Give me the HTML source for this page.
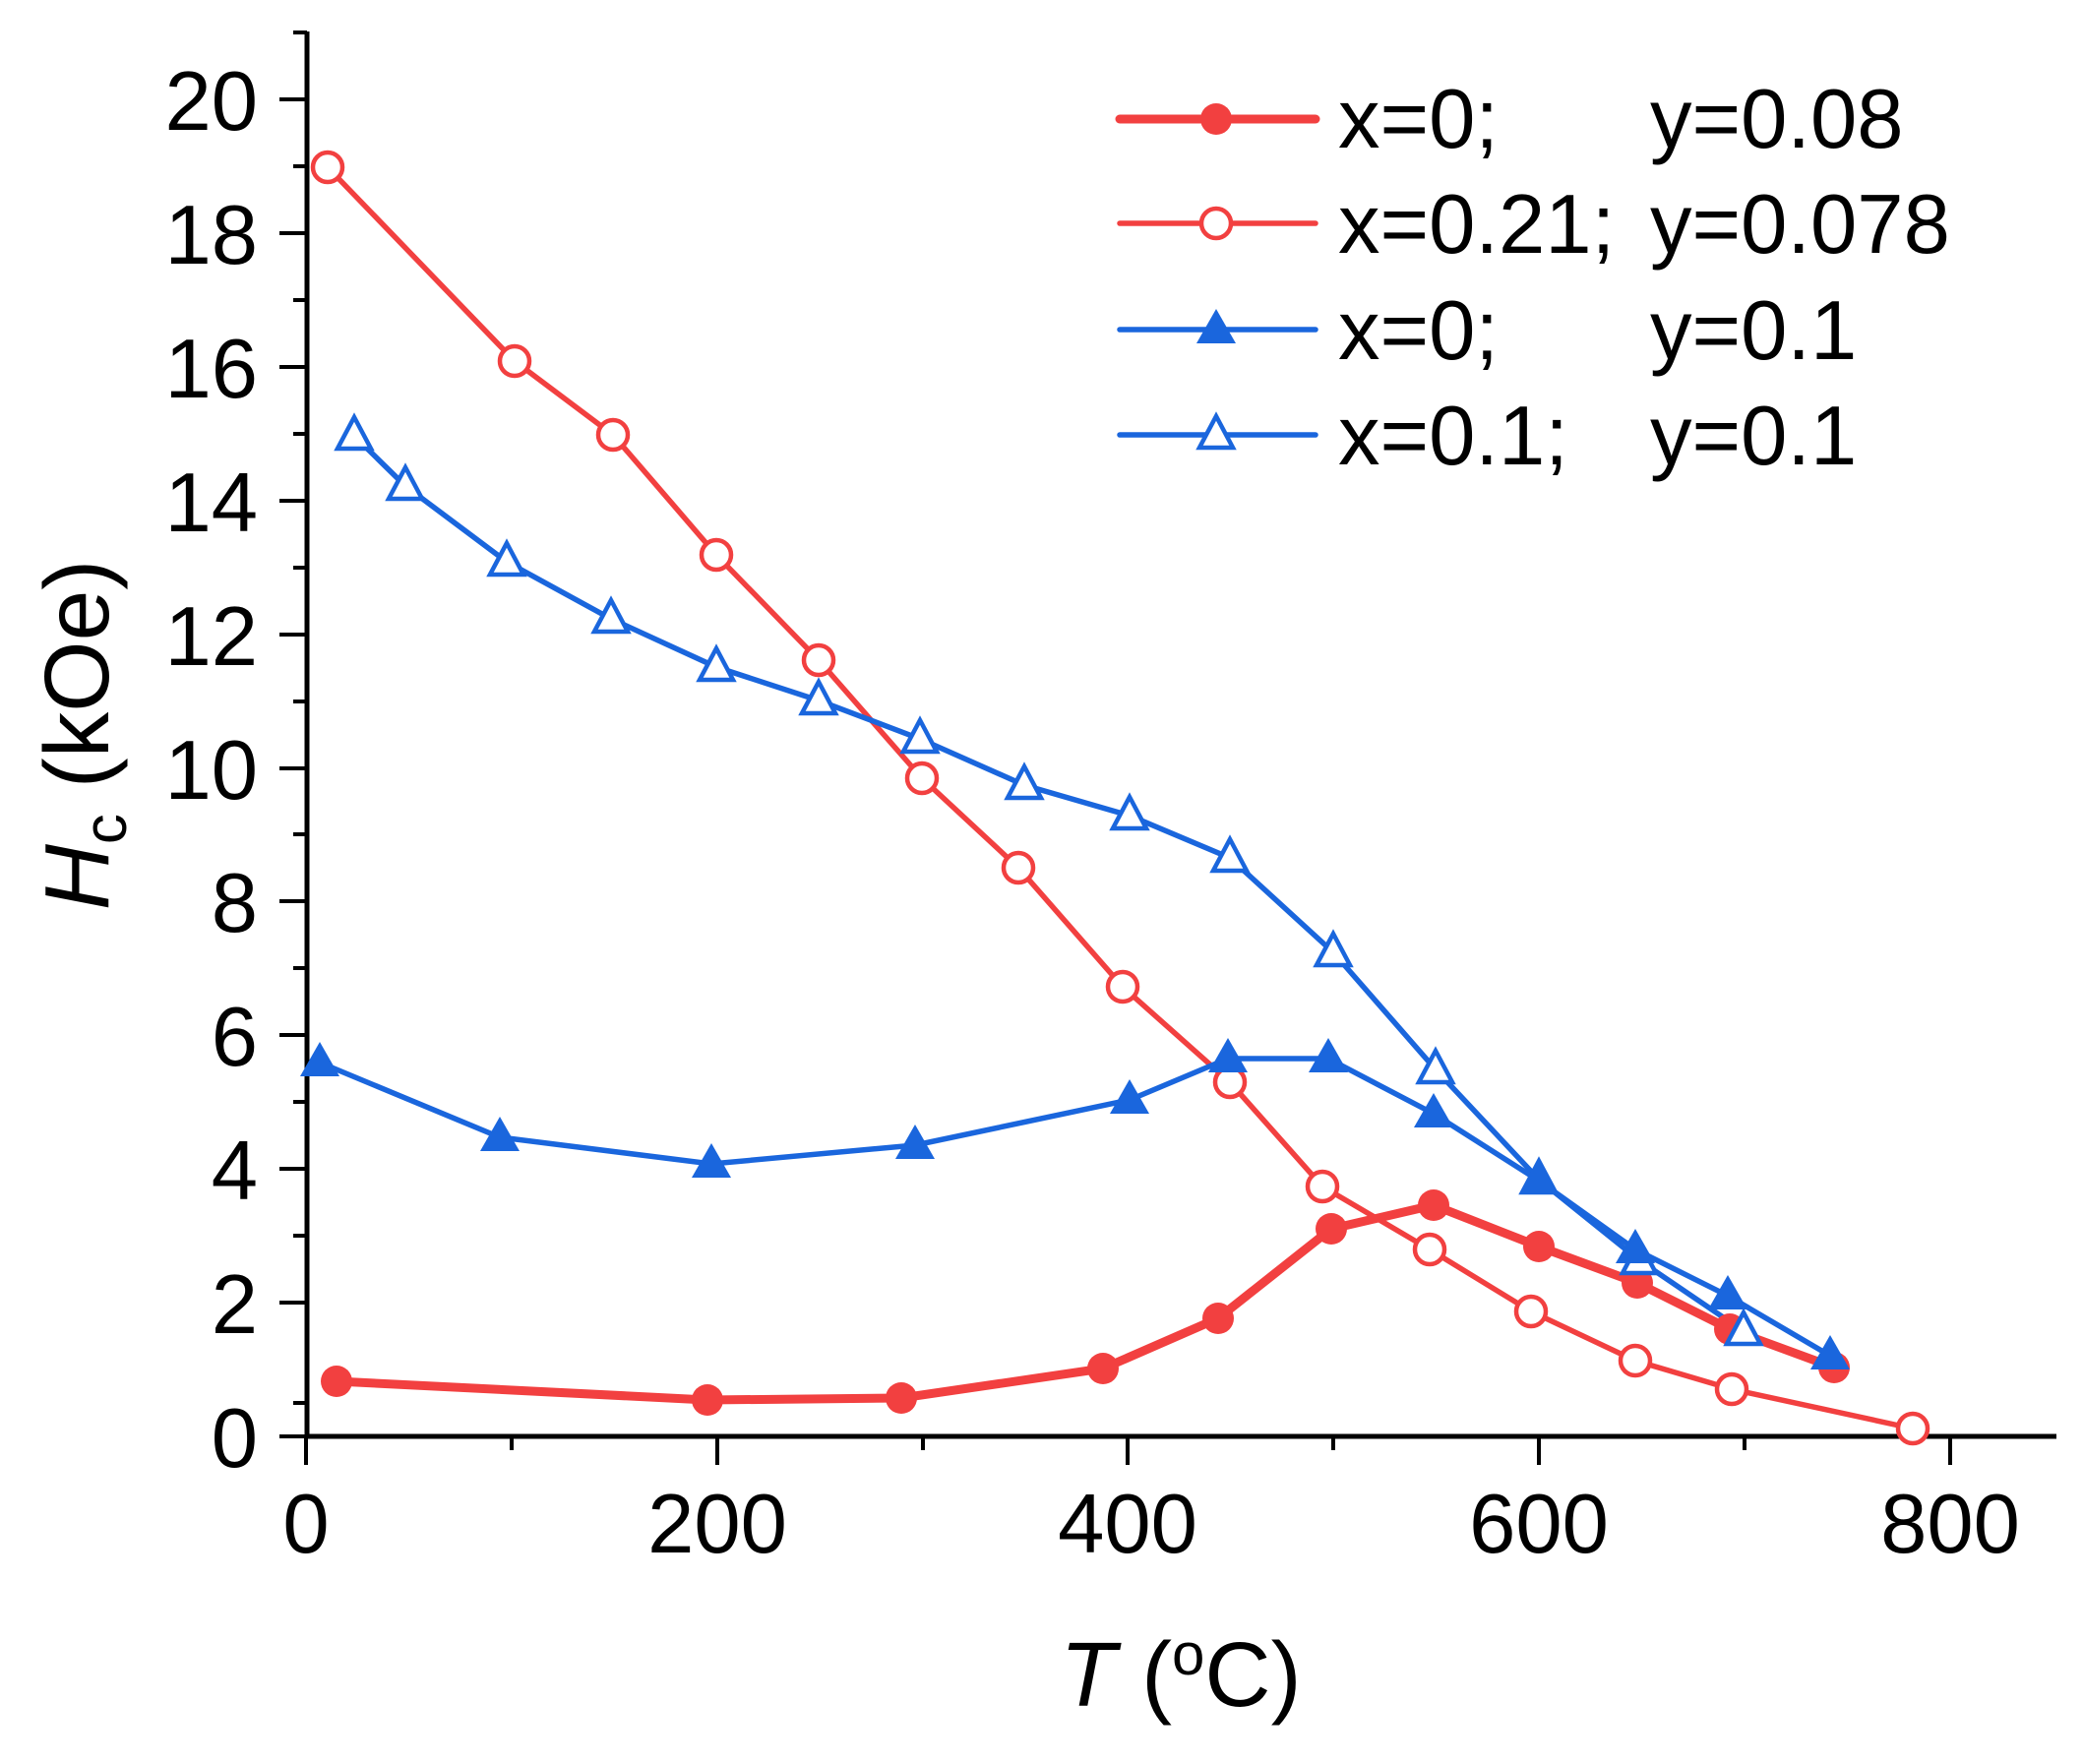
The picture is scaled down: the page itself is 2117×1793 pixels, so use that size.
<!DOCTYPE html>
<html><head><meta charset="utf-8"><style>
html,body{margin:0;padding:0;background:#fff;}
svg{display:block;}
text{font-family:"Liberation Sans",sans-serif;fill:#000;}
</style></head><body>
<svg width="2117" height="1793" viewBox="0 0 2117 1793" xmlns="http://www.w3.org/2000/svg">
<defs>
<g id="fc"><circle r="16" fill="#f24040"/></g>
<g id="oc"><circle r="15" fill="#fff" stroke="#f24040" stroke-width="4.5"/></g>
<g id="ft"><polygon points="0,-21 20,14 -20,14" fill="#1a66dd"/></g>
<g id="ot"><polygon points="0,-19 17,13 -17,13" fill="#fff" stroke="#1a66dd" stroke-width="4.5"/></g>
</defs>
<g stroke="#000" stroke-width="5" fill="none">
<line x1="312" y1="32" x2="312" y2="1462"/>
<line x1="310" y1="1460" x2="2090" y2="1460"/>
</g>
<g stroke="#000" stroke-width="4">
<line x1="284" y1="1460" x2="312" y2="1460"/><line x1="298" y1="1426" x2="312" y2="1426"/>
<line x1="284" y1="1324" x2="312" y2="1324"/><line x1="298" y1="1256" x2="312" y2="1256"/>
<line x1="284" y1="1188" x2="312" y2="1188"/><line x1="298" y1="1120" x2="312" y2="1120"/>
<line x1="284" y1="1052" x2="312" y2="1052"/><line x1="298" y1="984" x2="312" y2="984"/>
<line x1="284" y1="916" x2="312" y2="916"/><line x1="298" y1="848" x2="312" y2="848"/>
<line x1="284" y1="781" x2="312" y2="781"/><line x1="298" y1="713" x2="312" y2="713"/>
<line x1="284" y1="645" x2="312" y2="645"/><line x1="298" y1="577" x2="312" y2="577"/>
<line x1="284" y1="509" x2="312" y2="509"/><line x1="298" y1="441" x2="312" y2="441"/>
<line x1="284" y1="373" x2="312" y2="373"/><line x1="298" y1="305" x2="312" y2="305"/>
<line x1="284" y1="237" x2="312" y2="237"/><line x1="298" y1="169" x2="312" y2="169"/>
<line x1="284" y1="101" x2="312" y2="101"/><line x1="298" y1="33" x2="312" y2="33"/>
<line x1="311" y1="1460" x2="311" y2="1489"/><line x1="520" y1="1460" x2="520" y2="1474"/>
<line x1="729" y1="1460" x2="729" y2="1489"/><line x1="938" y1="1460" x2="938" y2="1474"/>
<line x1="1146" y1="1460" x2="1146" y2="1489"/><line x1="1355" y1="1460" x2="1355" y2="1474"/>
<line x1="1564" y1="1460" x2="1564" y2="1489"/><line x1="1773" y1="1460" x2="1773" y2="1474"/>
<line x1="1982" y1="1460" x2="1982" y2="1489"/>
</g>
<g font-size="85" text-anchor="end">
<text x="262" y="1491">0</text><text x="262" y="1355">2</text><text x="262" y="1219">4</text>
<text x="262" y="1083">6</text><text x="262" y="947">8</text><text x="262" y="812">10</text>
<text x="262" y="676">12</text><text x="262" y="540">14</text><text x="262" y="404">16</text>
<text x="262" y="268">18</text><text x="262" y="132">20</text>
</g>
<g font-size="85" text-anchor="middle">
<text x="311" y="1578">0</text><text x="729" y="1578">200</text><text x="1146" y="1578">400</text>
<text x="1564" y="1578">600</text><text x="1982" y="1578">800</text>
</g>
<text x="1200" y="1734" font-size="93" text-anchor="middle"><tspan font-style="italic">T</tspan> (<tspan font-size="60" dy="-32">o</tspan><tspan dy="32">C)</tspan></text>
<text transform="translate(110,747) rotate(-90)" font-size="93" text-anchor="middle"><tspan font-style="italic">H</tspan><tspan font-size="62" dy="18">c</tspan><tspan dy="-18"> (kOe)</tspan></text>

<polyline fill="none" stroke="#f24040" stroke-width="5.5" points="333,170 523,367 623,442 728,564 832,671 937,791 1035,882 1141,1003 1250,1100 1344,1206 1453,1270 1556,1333 1662,1383 1760,1412 1944,1452"/>
<polyline fill="none" stroke="#f24040" stroke-width="9" points="342,1404 719,1423 916,1421 1121,1391 1238,1340 1353,1249 1457,1225 1564,1267 1664,1304 1758,1351 1864,1390"/>
<polyline fill="none" stroke="#1a66dd" stroke-width="5.5" points="360,443 412,494 515,571 621,629 728,678 832,712 935,751 1041,798 1148,829 1250,872 1355,968 1459,1087 1564,1199 1666,1281 1772,1353"/>
<polyline fill="none" stroke="#1a66dd" stroke-width="5.5" points="325,1080 508,1156 723,1183 930,1164 1148,1118 1248,1076 1350,1076 1457,1132 1564,1200 1662,1270 1756,1317 1860,1378"/>

<g>
<use href="#oc" x="333" y="170"/><use href="#oc" x="523" y="367"/><use href="#oc" x="623" y="442"/><use href="#oc" x="728" y="564"/><use href="#oc" x="832" y="671"/><use href="#oc" x="937" y="791"/><use href="#oc" x="1035" y="882"/><use href="#oc" x="1141" y="1003"/><use href="#oc" x="1250" y="1100"/><use href="#oc" x="1344" y="1206"/><use href="#oc" x="1453" y="1270"/><use href="#oc" x="1556" y="1333"/><use href="#oc" x="1662" y="1383"/><use href="#oc" x="1760" y="1412"/><use href="#oc" x="1944" y="1452"/>
<use href="#fc" x="342" y="1404"/><use href="#fc" x="719" y="1423"/><use href="#fc" x="916" y="1421"/><use href="#fc" x="1121" y="1391"/><use href="#fc" x="1238" y="1340"/><use href="#fc" x="1353" y="1249"/><use href="#fc" x="1457" y="1225"/><use href="#fc" x="1564" y="1267"/><use href="#fc" x="1664" y="1304"/><use href="#fc" x="1758" y="1351"/><use href="#fc" x="1864" y="1390"/>
<use href="#ot" x="360" y="443"/><use href="#ot" x="412" y="494"/><use href="#ot" x="515" y="571"/><use href="#ot" x="621" y="629"/><use href="#ot" x="728" y="678"/><use href="#ot" x="832" y="712"/><use href="#ot" x="935" y="751"/><use href="#ot" x="1041" y="798"/><use href="#ot" x="1148" y="829"/><use href="#ot" x="1250" y="872"/><use href="#ot" x="1355" y="968"/><use href="#ot" x="1459" y="1087"/><use href="#ot" x="1564" y="1199"/><use href="#ot" x="1666" y="1281"/><use href="#ot" x="1772" y="1353"/>
<use href="#ft" x="325" y="1080"/><use href="#ft" x="508" y="1156"/><use href="#ft" x="723" y="1183"/><use href="#ft" x="930" y="1164"/><use href="#ft" x="1148" y="1118"/><use href="#ft" x="1248" y="1076"/><use href="#ft" x="1350" y="1076"/><use href="#ft" x="1457" y="1132"/><use href="#ft" x="1564" y="1200"/><use href="#ft" x="1662" y="1270"/><use href="#ft" x="1756" y="1317"/><use href="#ft" x="1860" y="1378"/>
</g>

<line x1="1138" y1="121" x2="1337" y2="121" stroke="#f24040" stroke-width="9" stroke-linecap="round"/>
<use href="#fc" x="1236" y="121"/>
<line x1="1138" y1="227" x2="1337" y2="227" stroke="#f24040" stroke-width="5.5" stroke-linecap="round"/>
<use href="#oc" x="1236" y="227"/>
<line x1="1138" y1="335" x2="1337" y2="335" stroke="#1a66dd" stroke-width="5.5" stroke-linecap="round"/>
<use href="#ft" x="1236" y="335"/>
<line x1="1138" y1="442" x2="1337" y2="442" stroke="#1a66dd" stroke-width="5.5" stroke-linecap="round"/>
<use href="#ot" x="1236" y="442"/>
<g font-size="85">
<text x="1360" y="150">x=0;</text><text x="1677" y="150">y=0.08</text>
<text x="1360" y="257">x=0.21;</text><text x="1677" y="257">y=0.078</text>
<text x="1360" y="365">x=0;</text><text x="1677" y="365">y=0.1</text>
<text x="1360" y="472">x=0.1;</text><text x="1677" y="472">y=0.1</text>
</g>
</svg>
</body></html>
